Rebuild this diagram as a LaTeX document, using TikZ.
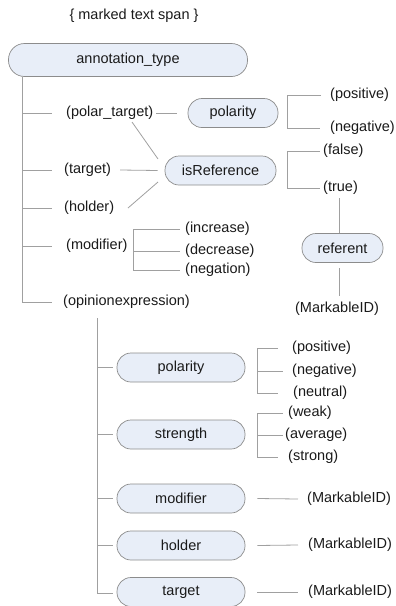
\documentclass[tikz,border=0pt]{standalone}
\usepackage{fontspec}
\setmainfont{Liberation Sans}
\definecolor{boxfill}{HTML}{E8EEF8}
\definecolor{boxline}{HTML}{8C8C8C}
\definecolor{lncol}{HTML}{A0A0A0}
\definecolor{txt}{HTML}{1A1A1A}
\begin{document}
\begin{tikzpicture}[x=1pt,y=-1pt,
  every node/.style={font=\fontsize{14.5}{16}\selectfont, text=txt},
  box/.style={draw=boxline, fill=boxfill, rounded corners=14pt, inner sep=0pt, line width=0.7pt, minimum height=29pt},
  lbl/.style={inner sep=0pt, anchor=west},
  ln/.style={draw=lncol, line width=0.8pt}]
\useasboundingbox (0,0) rectangle (396,606);

% title and root
\node[inner sep=0pt] (title) at (134,16) {\{ marked text span \}};
\node[box, rounded corners=16pt, minimum width=239pt, minimum height=33pt] (root) at (128,60) {annotation\_type};

% first-level labels
\node[lbl] (polt) at (66,113) {(polar\_target)};
\node[lbl] (tgt) at (64,170) {(target)};
\node[lbl] (hld) at (64,208) {(holder)};
\node[lbl] (mod) at (66,246) {(modifier)};
\node[lbl] (opx) at (63,302) {(opinionexpression)};

% trunk
\coordinate (t0) at (22,76.5);
\coordinate (t1) at (52,113);
\coordinate (t2) at (52,170);
\coordinate (t3) at (52,208);
\coordinate (t4) at (52,246);
\coordinate (t5) at (52,302);
\draw[ln] (t0) |- (t5);
\draw[ln] (t0 |- t1) -- (t1);
\draw[ln] (t0 |- t2) -- (t2);
\draw[ln] (t0 |- t3) -- (t3);
\draw[ln] (t0 |- t4) -- (t4);

% polarity and isReference
\node[box, minimum width=90pt] (pol) at (233,113) {polarity};
\node[box, minimum width=111pt] (isr) at (220.5,170.5) {isReference};
\draw[ln] ([xshift=3pt]polt.east) -- ([xshift=-11pt]pol.west);
\coordinate (d1a) at (132,122);
\coordinate (d1b) at (158,159);
\draw[ln] (d1a) -- (d1b);
\draw[ln] ([xshift=9pt]tgt.east) -- ([xshift=-7pt]isr.west);
\coordinate (d3a) at (128,208);
\coordinate (d3b) at (158,182);
\draw[ln] (d3a) -- (d3b);

% polarity values
\node[lbl] (ppos) at (330,95) {(positive)};
\node[lbl] (pneg) at (330,128) {(negative)};
\coordinate (pb1) at (287,95);
\coordinate (pb2) at (287,128);
\draw[ln] ([xshift=-9pt]ppos.west) -- (pb1) -- (pb2) -- ([xshift=-10pt]pneg.west);

% isReference values
\node[lbl] (fls) at (323,151) {(false)};
\node[lbl] (tru) at (323,188) {(true)};
\coordinate (ib1) at (287,151);
\coordinate (ib2) at (287,188);
\draw[ln] ([xshift=-3pt]fls.west) -- (ib1) -- (ib2) -- ([xshift=-3pt]tru.west);

% referent
\node[box, minimum width=81pt] (ref) at (342.5,248) {referent};
\node[inner sep=0pt] (refid) at (337,309) {(MarkableID)};
\coordinate (r1) at (339,198);
\coordinate (r2) at (339,233);
\draw[ln] (r1) -- (r2);
\coordinate (r3) at (339,268);
\coordinate (r4) at (339,296);
\draw[ln] (r3) -- (r4);

% modifier values
\node[lbl] (inc) at (185,229) {(increase)};
\node[lbl] (dec) at (185,251) {(decrease)};
\node[lbl] (neg) at (185,270) {(negation)};
\coordinate (mb1) at (133,229);
\coordinate (mb2) at (133,251);
\coordinate (mb3) at (133,270);
\draw[ln] ([xshift=-5pt]inc.west) -- (mb1) -- (mb3) -- ([xshift=-5pt]neg.west);
\draw[ln] (mb2) -- ([xshift=-5pt]dec.west);

% opinionexpression subtree
\coordinate (s0) at (97,318);
\coordinate (s5) at (113,593);
\draw[ln] (s0) |- (s5);
\node[box, minimum width=128pt] (spol) at (181,367.5) {polarity};
\node[box, minimum width=128pt] (sstr) at (181,434.5) {strength};
\node[box, minimum width=128pt] (smod) at (181,498.5) {modifier};
\node[box, minimum width=128pt] (shld) at (181,545.5) {holder};
\node[box, minimum width=128pt] (stgt) at (181,592) {target};
\draw[ln] (s0 |- spol) -- ([xshift=-4pt]spol.west);
\draw[ln] (s0 |- sstr) -- ([xshift=-4pt]sstr.west);
\draw[ln] (s0 |- smod) -- ([xshift=-4pt]smod.west);
\draw[ln] (s0 |- shld) -- ([xshift=-4pt]shld.west);

% sub polarity values
\node[lbl] (sp1) at (292,348) {(positive)};
\node[lbl] (sp2) at (292,371) {(negative)};
\node[lbl] (sp3) at (293,393) {(neutral)};
\coordinate (sb1) at (257,348);
\coordinate (sb2) at (257,371);
\coordinate (sb3) at (257,393);
\draw[ln] ([xshift=-14pt]sp1.west) -- (sb1) -- (sb3) -- ([xshift=-15pt]sp3.west);
\draw[ln] (sb2) -- ([xshift=-9pt]sp2.west);

% strength values
\node[lbl] (st1) at (288,413) {(weak)};
\node[lbl] (st2) at (285,435) {(average)};
\node[lbl] (st3) at (288,457) {(strong)};
\coordinate (tb1) at (257,413);
\coordinate (tb2) at (257,435);
\coordinate (tb3) at (257,457);
\draw[ln] ([xshift=-5pt]st1.west) -- (tb1) -- (tb3) -- ([xshift=-10pt]st3.west);
\draw[ln] (tb2) -- ([xshift=-2pt]st2.west);

% MarkableIDs
\node[lbl] (mid1) at (307,499) {(MarkableID)};
\node[lbl] (mid2) at (308,545) {(MarkableID)};
\node[lbl] (mid3) at (308,592) {(MarkableID)};
\draw[ln] ([xshift=12pt]smod.east) -- ([xshift=-9pt]mid1.west);
\draw[ln] ([xshift=12pt]shld.east) -- ([xshift=-10pt]mid2.west);
\draw[ln] ([xshift=12pt]stgt.east) -- ([xshift=-10pt]mid3.west);
\end{tikzpicture}
\end{document}
